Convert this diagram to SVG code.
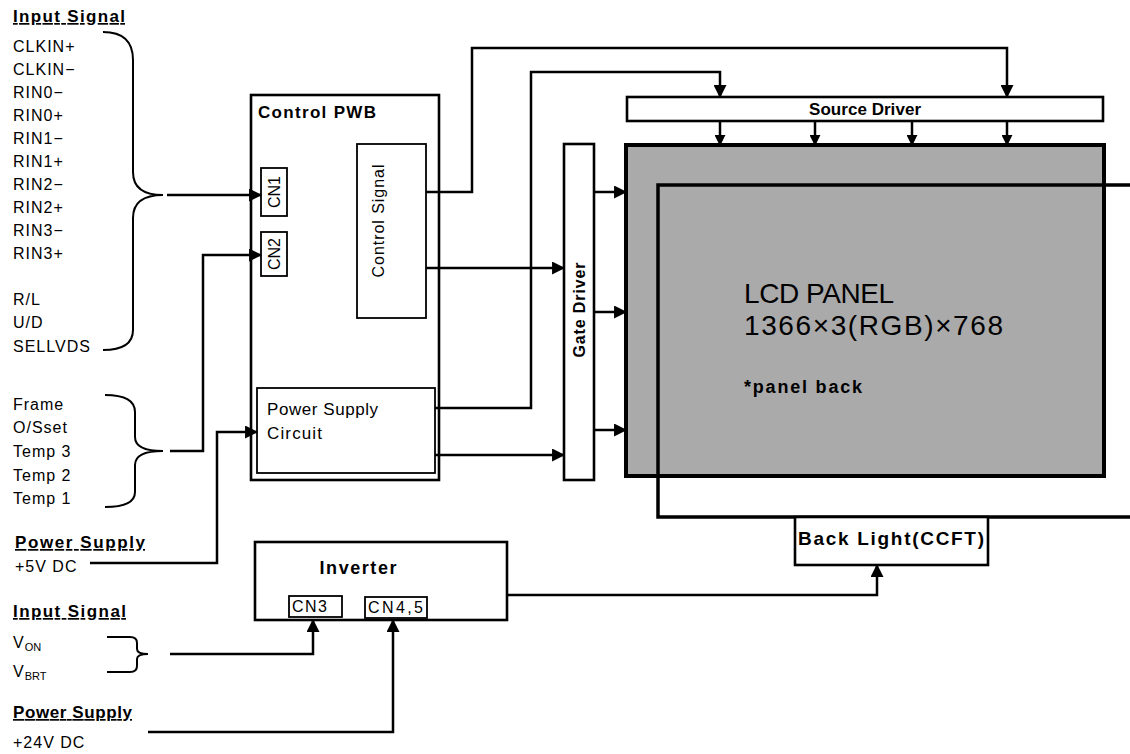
<svg xmlns="http://www.w3.org/2000/svg" width="1130" height="754" viewBox="0 0 1130 754">
<style>
text{font-family:"Liberation Sans",Arial,sans-serif;fill:#000}
.it{font-size:16px;letter-spacing:1px}
.hd{font-size:17px;font-weight:bold;text-decoration:underline}
.b{font-weight:bold}
.box{fill:#fff;stroke:#000;stroke-width:2.6}
.thin{fill:#fff;stroke:#000;stroke-width:1.8}
.ln{fill:none;stroke:#000;stroke-width:2.5}
.br{fill:none;stroke:#000;stroke-width:2}
.ar{marker-end:url(#ah)}
.as{marker-end:url(#ahs)}
</style>
<defs>
<marker id="ah" markerUnits="userSpaceOnUse" viewBox="0 0 12 12" markerWidth="13" markerHeight="13" refX="11" refY="6" orient="auto"><path d="M0,0L12,6L0,12z"/></marker>
<marker id="ahs" markerUnits="userSpaceOnUse" viewBox="0 0 12 12" markerWidth="11" markerHeight="11" refX="11" refY="6" orient="auto"><path d="M0,0L12,6L0,12z"/></marker>
</defs>
<rect width="1130" height="754" fill="#fff"/>

<g id="inputs1">
<text class="hd" x="13" y="22" textLength="112">Input Signal</text>
<text class="it" x="13" y="52">CLKIN+</text>
<text class="it" x="13" y="75">CLKIN−</text>
<text class="it" x="13" y="98">RIN0−</text>
<text class="it" x="13" y="121">RIN0+</text>
<text class="it" x="13" y="144">RIN1−</text>
<text class="it" x="13" y="167">RIN1+</text>
<text class="it" x="13" y="190">RIN2−</text>
<text class="it" x="13" y="213">RIN2+</text>
<text class="it" x="13" y="236">RIN3−</text>
<text class="it" x="13" y="259">RIN3+</text>
<text class="it" x="13" y="305">R/L</text>
<text class="it" x="13" y="328">U/D</text>
<text class="it" x="13" y="352">SELLVDS</text>
<path class="br" d="M103,32 C124,32 133,42 133,60 L133,172 C133,188 144,195 163,195 C144,195 133,202 133,218 L133,330 C133,343 124,350 103,350"/>
</g>

<g id="inputs2">
<text class="it" x="13" y="410">Frame</text>
<text class="it" x="13" y="433">O/Sset</text>
<text class="it" x="13" y="457">Temp 3</text>
<text class="it" x="13" y="481">Temp 2</text>
<text class="it" x="13" y="504">Temp 1</text>
<path class="br" d="M105,395 C124,395 135,400 135,412 L135,437 C135,446 145,451 163,451 C145,451 135,456 135,465 L135,492 C135,502 124,507 105,507"/>
</g>

<g id="power5v">
<text class="hd" x="15" y="548" textLength="130">Power Supply</text>
<text class="it" x="15" y="572">+5V DC</text>
</g>

<g id="inputs3">
<text class="hd" x="13" y="617" textLength="113">Input Signal</text>
<text class="it" x="13" y="648">V<tspan font-size="11" dy="3" letter-spacing="0">ON</tspan></text>
<text class="it" x="13" y="677">V<tspan font-size="11" dy="3" letter-spacing="0">BRT</tspan></text>
<path class="br" d="M107,637 L130,637 C135,637 137,639 137,643 L137,649 C137,652 140,654 148,654 C140,654 137,656 137,659 L137,666 C137,670 135,672 130,672 L107,672"/>
</g>

<g id="power24v">
<text class="hd" x="13" y="718" textLength="119">Power Supply</text>
<text class="it" x="13" y="748">+24V DC</text>
</g>

<g id="control-pwb">
<rect class="box" x="251" y="95" width="188" height="385"/>
<text class="b" x="258" y="118" font-size="17" textLength="118">Control PWB</text>
</g>
<g id="cn1">
<rect class="thin" x="261" y="168" width="26" height="48"/>
<text transform="translate(280,192) rotate(-90)" text-anchor="middle" font-size="16">CN1</text>
</g>
<g id="cn2">
<rect class="thin" x="261" y="232" width="26" height="44"/>
<text transform="translate(280,254) rotate(-90)" text-anchor="middle" font-size="16">CN2</text>
</g>
<g id="control-signal">
<rect class="thin" x="357" y="144" width="69" height="174"/>
<text transform="translate(384,221) rotate(-90)" text-anchor="middle" font-size="16" textLength="113">Control Signal</text>
</g>
<g id="power-supply-circuit">
<rect class="thin" x="257" y="388" width="178" height="85"/>
<text x="267" y="415" font-size="17" textLength="111">Power Supply</text>
<text x="267" y="439" font-size="17" textLength="55">Circuit</text>
</g>

<g id="gate-driver">
<rect class="box" x="564" y="144" width="30" height="336"/>
<text class="b" transform="translate(585,310) rotate(-90)" text-anchor="middle" font-size="16" textLength="95">Gate Driver</text>
</g>

<g id="source-driver">
<rect class="box" x="627" y="97" width="476" height="24"/>
<text class="b" x="865" y="115" text-anchor="middle" font-size="17" textLength="112">Source Driver</text>
</g>

<g id="lcd-panel">
<rect x="626" y="145" width="478" height="331" fill="#aaaaaa" stroke="#000" stroke-width="4"/>
<text x="744" y="303" font-size="28" textLength="150">LCD PANEL</text>
<text x="744" y="335" font-size="28" textLength="259">1366×3(RGB)×768</text>
<text class="b" x="744" y="393" font-size="18" textLength="118">*panel back</text>
</g>

<g id="back-light-frame">
<path d="M1135,185 H658 V517 H1135" fill="none" stroke="#000" stroke-width="3.5"/>
</g>

<g id="back-light">
<rect class="box" x="795" y="517" width="193" height="48"/>
<text class="b" x="891" y="545" text-anchor="middle" font-size="19" textLength="186">Back Light(CCFT)</text>
</g>

<g id="inverter">
<rect class="box" x="255" y="542" width="252" height="78"/>
<text class="b" x="358" y="574" text-anchor="middle" font-size="18" textLength="77">Inverter</text>
</g>
<g id="cn3">
<rect class="thin" x="289" y="596" width="53" height="21"/>
<text x="292" y="612" font-size="16" textLength="35">CN3</text>
</g>
<g id="cn45">
<rect class="thin" x="365" y="597" width="62" height="21"/>
<text x="368" y="613" font-size="16" textLength="55">CN4,5</text>
</g>

<g id="connectors">
<path class="ln ar" d="M167,195 H261"/>
<path class="ln ar" d="M170,451 H203 V255 H261"/>
<path class="ln ar" d="M90,563 H217 V432 H257"/>
<path class="ln ar" d="M426,192 H472 V48 H1007 V97"/>
<path class="ln ar" d="M426,268 H564"/>
<path class="ln ar" d="M435,408 H531 V72 H720 V97"/>
<path class="ln ar" d="M435,455 H564"/>
<path class="ln ar" d="M594,192 H626"/>
<path class="ln ar" d="M594,312 H626"/>
<path class="ln ar" d="M594,430 H626"/>
<path class="ln as" d="M720,121 V145"/>
<path class="ln as" d="M815,121 V145"/>
<path class="ln as" d="M912,121 V145"/>
<path class="ln as" d="M1007,121 V145"/>
<path class="ln ar" d="M170,654 H313 V620"/>
<path class="ln ar" d="M148,732 H393 V620"/>
<path class="ln ar" d="M507,595 H877 V565"/>
</g>
</svg>
